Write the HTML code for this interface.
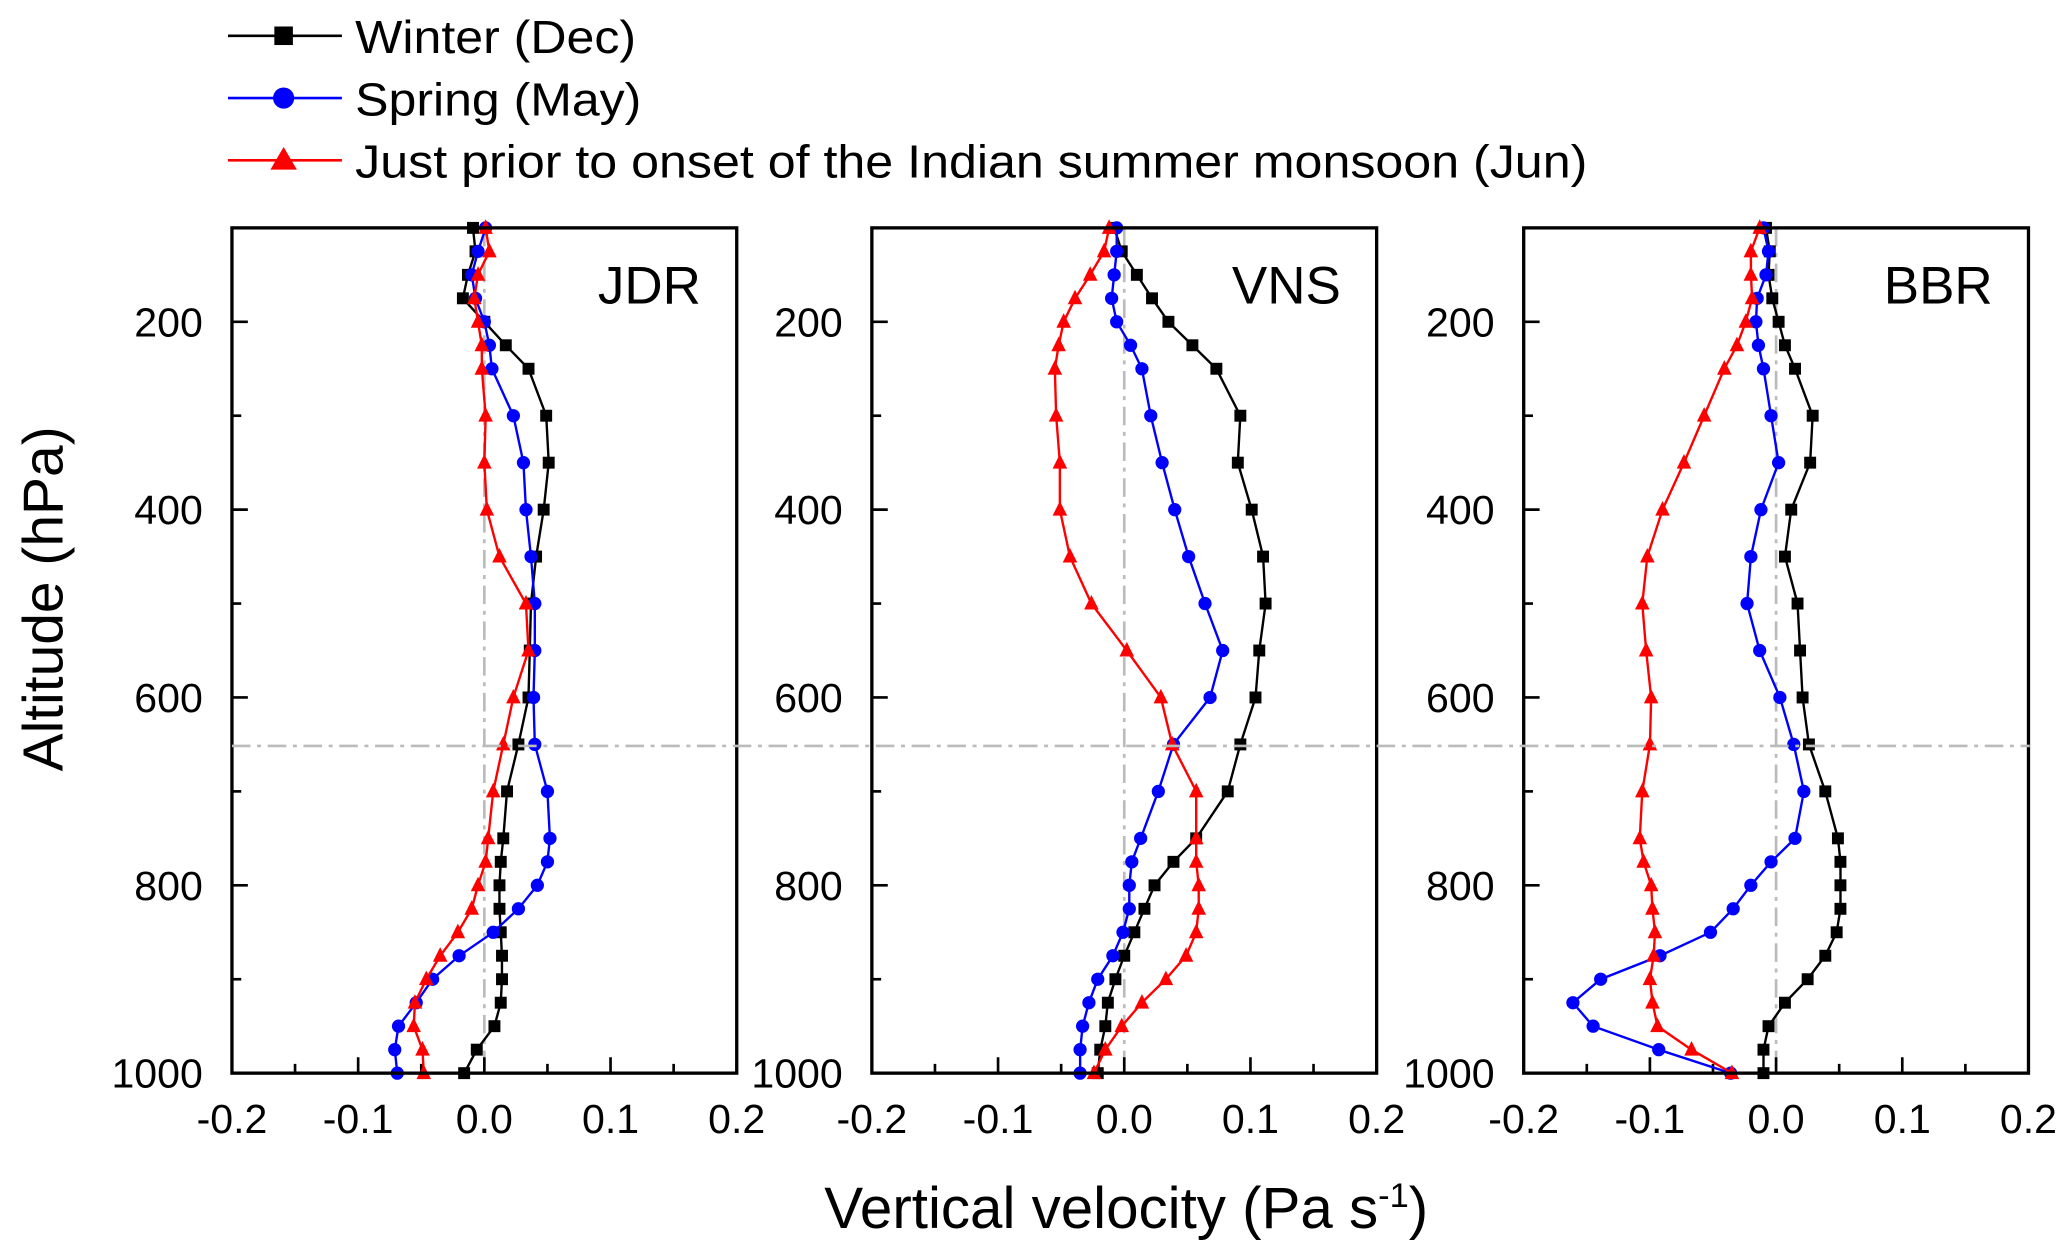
<!DOCTYPE html>
<html><head><meta charset="utf-8"><style>
html,body{margin:0;padding:0;background:#fff;}
svg{display:block;font-family:"Liberation Sans",Arial,sans-serif;}
</style></head><body>
<svg id="chart" width="2067" height="1252" viewBox="0 0 1560 945" xmlns="http://www.w3.org/2000/svg">
<g>
 <g>
  <line x1="172" y1="27" x2="258" y2="27" stroke="#000" stroke-width="2"/>
  <rect x="207" y="20" width="14" height="14" fill="#000"/>
  <text x="268" y="40" font-size="35" textLength="212" lengthAdjust="spacingAndGlyphs">Winter (Dec)</text>
 </g>
 <g>
  <line x1="172" y1="74" x2="258" y2="74" stroke="#0000ff" stroke-width="2"/>
  <circle cx="214" cy="74" r="8" fill="#0000ff"/>
  <text x="268" y="87" font-size="35" textLength="216" lengthAdjust="spacingAndGlyphs">Spring (May)</text>
 </g>
 <g>
  <line x1="172" y1="121" x2="258" y2="121" stroke="#ff0000" stroke-width="2"/>
  <polygon points="214,111 224,128 204,128" fill="#ff0000"/>
  <text x="268" y="134" font-size="35" textLength="930" lengthAdjust="spacingAndGlyphs">Just prior to onset of the Indian summer monsoon (Jun)</text>
 </g>
</g>
<text transform="translate(47,452) rotate(-90)" text-anchor="middle" font-size="43">Altitude (hPa)</text>
<text x="850" y="927" text-anchor="middle" font-size="44">Vertical velocity (Pa s<tspan dy="-16" font-size="26">-1</tspan><tspan dy="16">)</tspan></text>
<g id="panels"></g>
<line x1="175" y1="563" x2="1532" y2="563" stroke="#bbb" stroke-width="2" stroke-dasharray="14,5,3,5"/>
</svg>
<script>
const levels=[100,125,150,175,200,225,250,300,350,400,450,500,550,600,650,700,750,775,800,825,850,875,900,925,950,975,1000];
const stations=["JDR","VNS","BBR"];
const xTicks=[-0.2,-0.1,0.0,0.1,0.2];
const yTicks=[200,400,600,800,1000];
const jdrWinter=[-0.009,-0.007,-0.013,-0.017,0.0,0.017,0.035,0.049,0.051,0.047,0.041,0.037,0.036,0.035,0.027,0.018,0.015,0.013,0.012,0.012,0.013,0.014,0.014,0.013,0.008,-0.006,-0.016];
const jdrSpring=[0.001,-0.005,-0.010,-0.007,0.0,0.004,0.006,0.023,0.031,0.033,0.037,0.040,0.040,0.039,0.040,0.050,0.052,0.050,0.042,0.027,0.007,-0.020,-0.041,-0.054,-0.068,-0.071,-0.069];
const jdrJune=[0.001,0.004,-0.005,-0.008,-0.005,-0.002,-0.002,0.001,0.0,0.002,0.012,0.033,0.035,0.023,0.015,0.007,0.003,0.001,-0.005,-0.010,-0.021,-0.035,-0.046,-0.055,-0.056,-0.049,-0.048];
const vnsWinter=[-0.008,-0.002,0.010,0.022,0.035,0.054,0.073,0.092,0.090,0.101,0.110,0.112,0.107,0.104,0.092,0.082,0.057,0.039,0.024,0.016,0.008,0.0,-0.007,-0.013,-0.015,-0.019,-0.021];
const vnsSpring=[-0.006,-0.006,-0.008,-0.010,-0.006,0.005,0.014,0.021,0.030,0.040,0.051,0.064,0.078,0.068,0.039,0.027,0.013,0.006,0.004,0.004,-0.001,-0.009,-0.021,-0.028,-0.033,-0.035,-0.035];
const vnsJune=[-0.012,-0.016,-0.027,-0.039,-0.048,-0.052,-0.055,-0.054,-0.051,-0.051,-0.043,-0.026,0.002,0.029,0.038,0.057,0.057,0.057,0.059,0.059,0.057,0.049,0.033,0.014,-0.002,-0.015,-0.024];
const bbrWinter=[-0.008,-0.005,-0.006,-0.003,0.002,0.007,0.015,0.029,0.027,0.012,0.007,0.017,0.019,0.021,0.026,0.039,0.049,0.051,0.051,0.051,0.048,0.039,0.025,0.007,-0.006,-0.010,-0.010];
const bbrSpring=[-0.010,-0.006,-0.008,-0.015,-0.016,-0.014,-0.010,-0.004,0.002,-0.012,-0.020,-0.023,-0.013,0.003,0.014,0.022,0.015,-0.004,-0.020,-0.034,-0.052,-0.092,-0.139,-0.161,-0.145,-0.093,-0.036];
const bbrJune=[-0.013,-0.020,-0.020,-0.019,-0.024,-0.031,-0.041,-0.057,-0.073,-0.090,-0.102,-0.106,-0.103,-0.099,-0.100,-0.106,-0.108,-0.105,-0.099,-0.098,-0.096,-0.097,-0.100,-0.098,-0.094,-0.067,-0.035];
const seriesByStation=[[jdrWinter,jdrSpring,jdrJune],[vnsWinter,vnsSpring,vnsJune],[bbrWinter,bbrSpring,bbrJune]];
const panelLefts=[175,658,1150];
const PW=381,TOP=172,BOT=810;
const NS="http://www.w3.org/2000/svg";
const g=document.getElementById("panels");
function el(tag,attrs,parent){const e=document.createElementNS(NS,tag);for(const k in attrs)e.setAttribute(k,attrs[k]);(parent||g).appendChild(e);return e;}
const yScale=p=>TOP+(p-100)/900*(BOT-TOP);
const colors=["#000","#0000ff","#ff0000"];
const names=["winter","spring","june"];
stations.forEach((st,si)=>{
 const L=panelLefts[si];
 const xScale=v=>L+(v+0.2)/0.4*PW;
 const pg=el("g",{});
 
 
 const z=el("line",{x1:xScale(0),x2:xScale(0),y1:TOP,y2:BOT,stroke:"#bbb","stroke-width":2,"stroke-dasharray":"14,5,3,5"},pg);
 
 
 for(let p=200;p<=900;p+=100){const big=p%200===0;el("line",{x1:L,x2:L+(big?12:7),y1:yScale(p),y2:yScale(p),stroke:"#000","stroke-width":2},pg);}
 for(let v=-0.15;v<0.2;v+=0.05){const big=Math.abs(Math.round(v*100))%10===0;el("line",{x1:xScale(v),x2:xScale(v),y1:BOT,y2:BOT-(big?12:7),stroke:"#000","stroke-width":2},pg);}
 yTicks.forEach(p=>{const t=el("text",{x:L-22,y:yScale(p)+11,"text-anchor":"end","font-size":31},pg);t.textContent=String(p);
  
  });
 xTicks.forEach(v=>{const t=el("text",{x:xScale(v),y:855,"text-anchor":"middle","font-size":31},pg);t.textContent=v.toFixed(1);
  
  });
 seriesByStation[si].forEach((vals,k)=>{
  const sg=el("g",{},pg);
  
  
  const pts=vals.map((v,i)=>xScale(v).toFixed(1)+","+yScale(levels[i]).toFixed(1)).join(" ");
  el("polyline",{points:pts,fill:"none",stroke:colors[k],"stroke-width":1.8},sg);
  vals.forEach((v,i)=>{const x=xScale(v),y=yScale(levels[i]);let m;
   if(k===0)m=el("rect",{x:x-4.5,y:y-4.5,width:9,height:9,fill:colors[k]},sg);
   else if(k===1)m=el("circle",{cx:x,cy:y,r:5,fill:colors[k]},sg);
   else m=el("polygon",{points:`${x},${y-6.5} ${x+5.5},${y+4.5} ${x-5.5},${y+4.5}`,fill:colors[k]},sg);
   
   });
 });
 const fr=el("rect",{x:L,y:TOP,width:PW,height:BOT-TOP,fill:"none",stroke:"#000","stroke-width":2.5},pg);
 
 
 const lab=el("text",{x:L+PW-27,y:229,"text-anchor":"end","font-size":40},pg);lab.textContent=st;
 
 
});
</script>
</body></html>
